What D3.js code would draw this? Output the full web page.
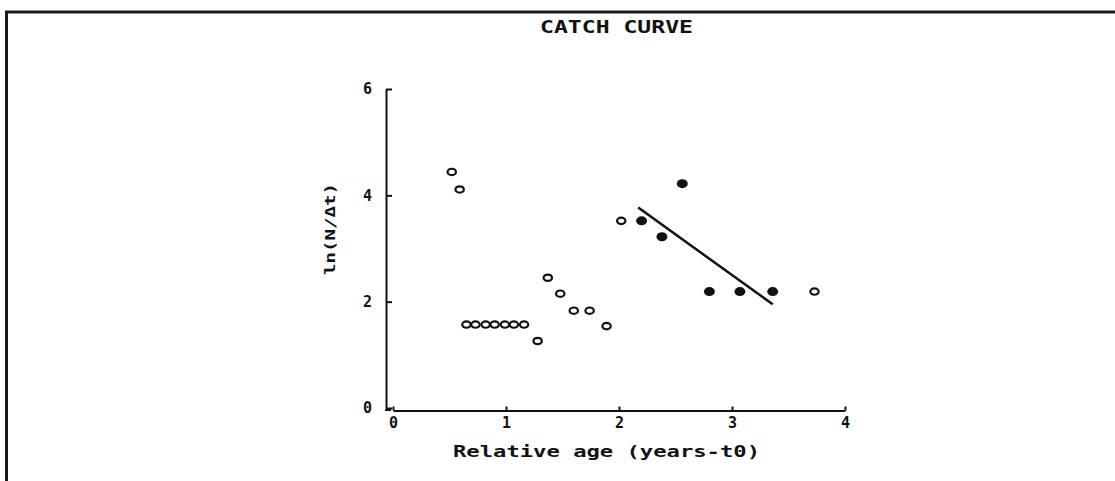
<!DOCTYPE html>
<html>
<head>
<meta charset="utf-8">
<script src="https://cdn.jsdelivr.net/npm/d3@7"></script>
<style>
html,body{margin:0;padding:0;background:#fff;}
svg{display:block;}
text{font-family:"DejaVu Sans Mono","Liberation Mono",monospace;font-weight:bold;fill:#111;}
</style>
</head>
<body>
<svg id="chart" width="1115" height="481"></svg>
<script>
// ---- data ----
const title = "CATCH CURVE";
const xTitle = "Relative age (years-t0)";
const yTitle = "ln(N/\u0394t)";
const xTicks = [0, 1, 2, 3, 4];
const yTicks = [0, 2, 4, 6];
// open circles (not used in regression)
const openX = [0.52, 0.59, 0.65, 0.73, 0.82, 0.90, 0.99, 1.07, 1.16, 1.28, 1.37, 1.48, 1.60, 1.74, 1.89, 2.02, 3.73];
const openY = [4.44, 4.11, 1.57, 1.57, 1.57, 1.57, 1.57, 1.57, 1.57, 1.26, 2.45, 2.15, 1.83, 1.83, 1.54, 3.52, 2.19];
// filled circles (used in regression)
const filledX = [2.20, 2.38, 2.56, 2.80, 3.07, 3.36];
const filledY = [3.52, 3.22, 4.22, 2.19, 2.19, 2.19];
// regression line end points
const fitX = [2.17, 3.36];
const fitY = [3.77, 1.95];

// ---- drawing ----
const svg = d3.select("#chart");
const x = d3.scaleLinear().domain([0, 4]).range([393, 845]);
const y = d3.scaleLinear().domain([0, 6]).range([408, 89]);

// frame (top and left borders)
svg.append("line").attr("x1", 5).attr("x2", 1115).attr("y1", 12).attr("y2", 12)
  .attr("stroke", "#1a1a1a").attr("stroke-width", 3);
svg.append("line").attr("x1", 6.5).attr("x2", 6.5).attr("y1", 11).attr("y2", 481)
  .attr("stroke", "#1a1a1a").attr("stroke-width", 3);

// title
svg.append("text").attr("x", 540).attr("y", 33)
  .attr("textLength", 153).attr("lengthAdjust", "spacingAndGlyphs")
  .style("font-size", "17px").text(title);

// x axis
const xAxis = svg.append("g").attr("transform", "translate(0,410.5)")
  .call(d3.axisBottom(x).tickValues(xTicks).tickSize(-4).tickSizeOuter(0).tickPadding(7).tickFormat(d3.format("d")));
xAxis.select(".domain").attr("stroke", "#111").attr("stroke-width", 2);
xAxis.selectAll(".tick line").attr("stroke", "#111").attr("stroke-width", 2);
xAxis.selectAll(".tick text").style("font-size", "15px").style("font-family", "DejaVu Sans Mono").style("font-weight", "bold");

// y axis
const yAxis = svg.append("g").attr("transform", "translate(386,0)")
  .call(d3.axisLeft(y).tickValues(yTicks).tickSize(-6).tickSizeOuter(0).tickPadding(14).tickFormat(d3.format("d")));
yAxis.select(".domain").attr("stroke", "#111").attr("stroke-width", 2);
yAxis.selectAll(".tick line").attr("stroke", "#111").attr("stroke-width", 2);
yAxis.selectAll(".tick text").style("font-size", "15px").style("font-family", "DejaVu Sans Mono").style("font-weight", "bold");
// bottom foot of y axis
svg.append("line").attr("x1", 385).attr("x2", 391).attr("y1", 410).attr("y2", 410)
  .attr("stroke", "#111").attr("stroke-width", 2);

// axis titles
svg.append("text").attr("x", 453).attr("y", 457)
  .attr("textLength", 307).attr("lengthAdjust", "spacingAndGlyphs")
  .style("font-size", "16px").text(xTitle);
svg.append("text").attr("transform", "translate(335,275) rotate(-90)")
  .attr("textLength", 92).attr("lengthAdjust", "spacingAndGlyphs")
  .style("font-size", "14px").text(yTitle);

// regression line
svg.append("line")
  .attr("x1", x(fitX[0])).attr("y1", y(fitY[0]))
  .attr("x2", x(fitX[1])).attr("y2", y(fitY[1]))
  .attr("stroke", "#111").attr("stroke-width", 2.5);

// open points
svg.append("g").selectAll("ellipse").data(openX.map((d, i) => [d, openY[i]])).join("ellipse")
  .attr("cx", d => x(d[0])).attr("cy", d => y(d[1]))
  .attr("rx", 4.2).attr("ry", 3.2)
  .attr("fill", "#fff").attr("stroke", "#111").attr("stroke-width", 2.2);

// filled points
svg.append("g").selectAll("ellipse").data(filledX.map((d, i) => [d, filledY[i]])).join("ellipse")
  .attr("cx", d => x(d[0])).attr("cy", d => y(d[1]))
  .attr("rx", 5.5).attr("ry", 4.5)
  .attr("fill", "#111").attr("stroke", "none");
</script>
</body>
</html>
